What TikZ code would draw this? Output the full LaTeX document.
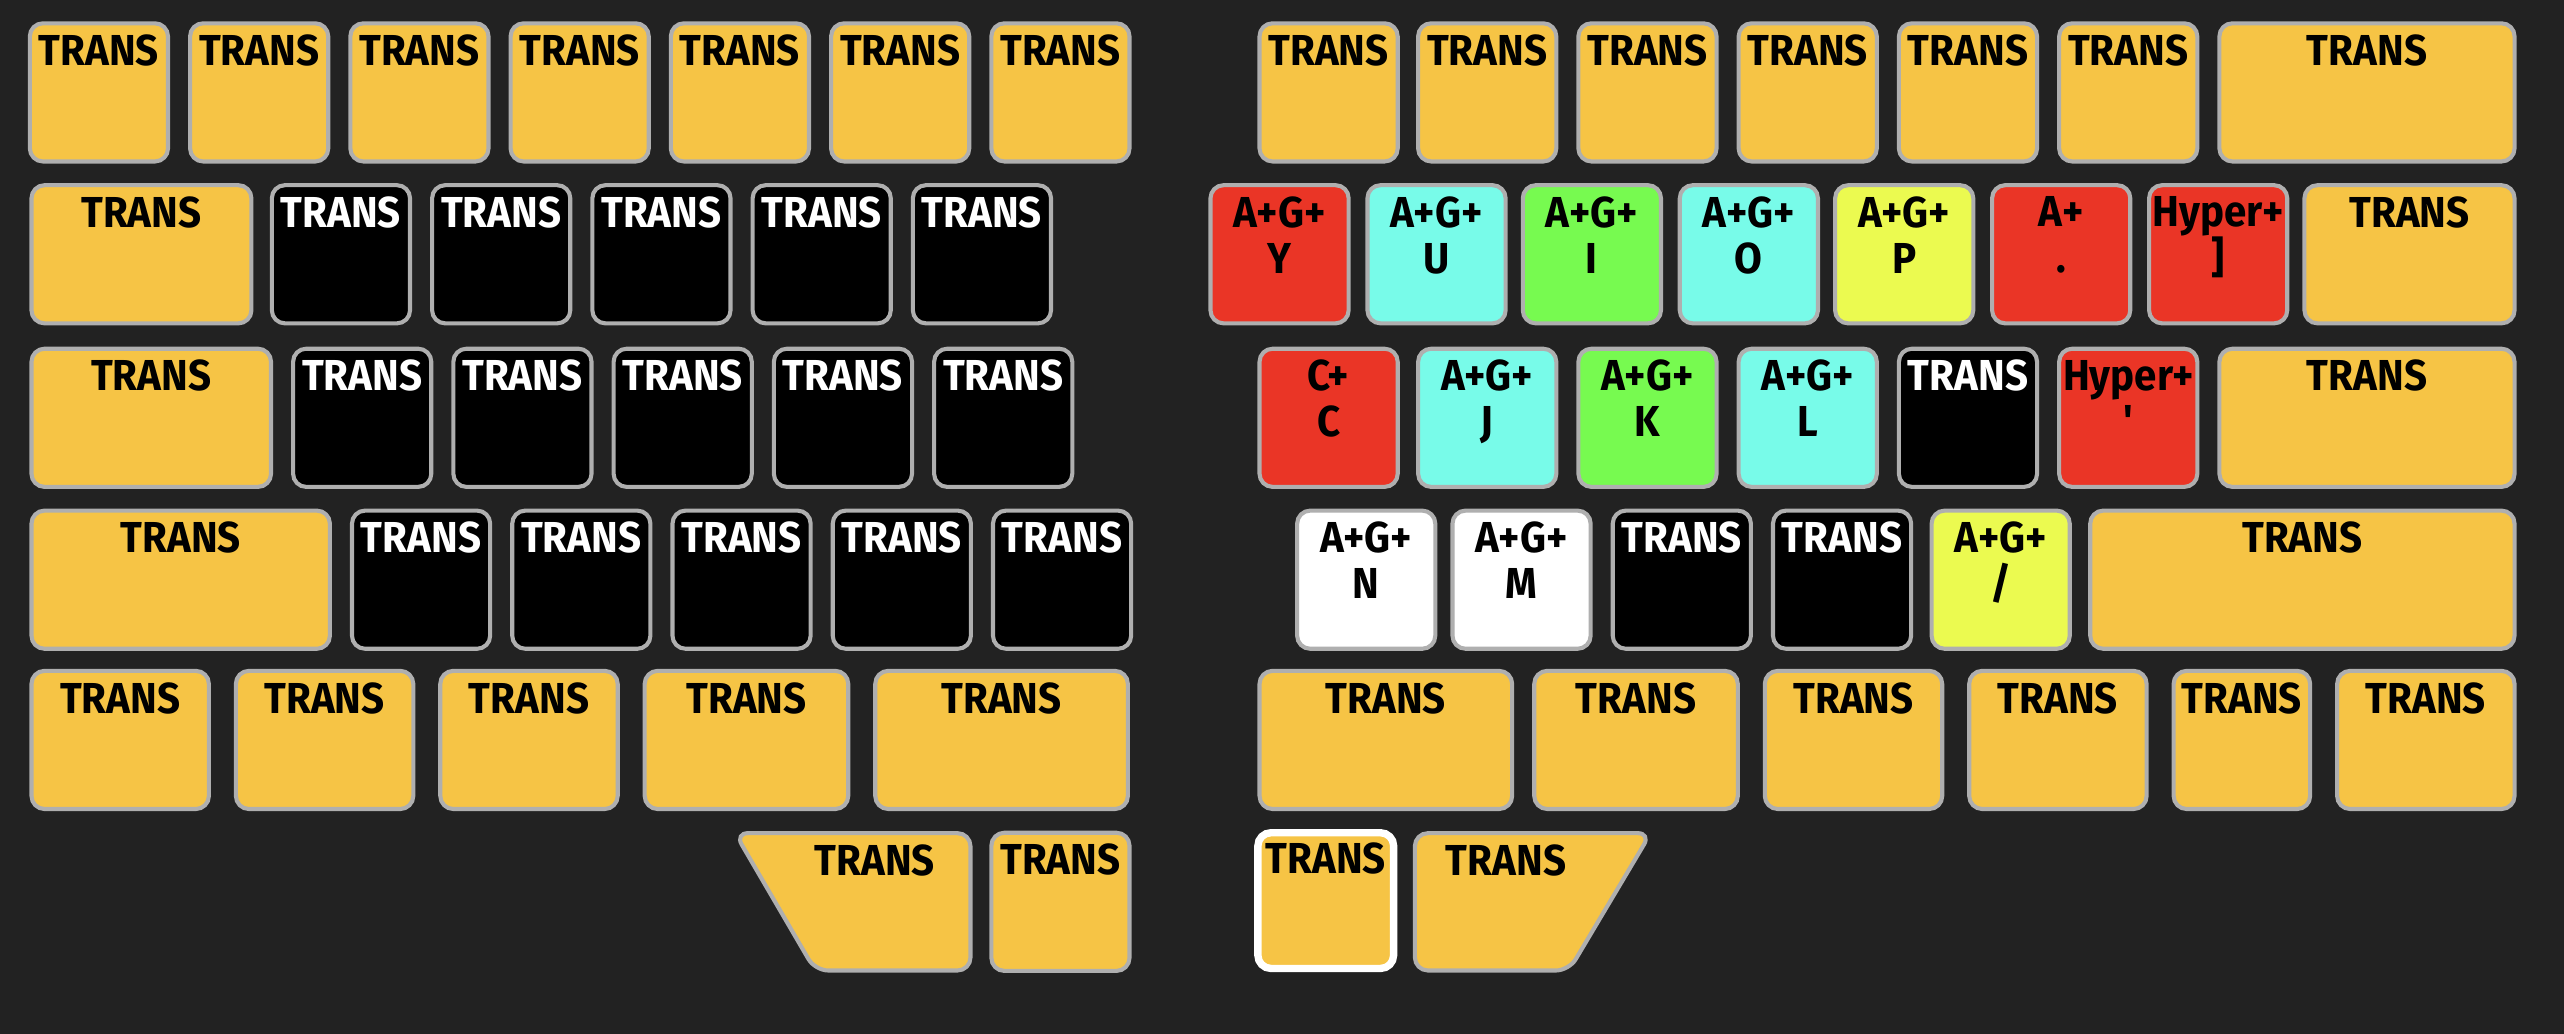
\documentclass[tikz,border=0pt]{standalone}
\usepackage{fontspec}
\usepackage{tikz}
\newfontfamily\legendfamily{Fira Sans}[FakeStretch=0.93]
\newcommand{\legendfont}{\legendfamily\bfseries\fontsize{26.5}{28}\selectfont}
\definecolor{board}{HTML}{222222}
\definecolor{keyedge}{HTML}{AFAFAF}
\definecolor{trans}{HTML}{F6C445}
\definecolor{keyred}{HTML}{EA3526}
\definecolor{keycyan}{HTML}{78FBE9}
\definecolor{keygreen}{HTML}{77FA50}
\definecolor{keylime}{HTML}{EBFA50}
\tikzset{key/.style={draw=keyedge,line width=2.5pt,rounded corners=8pt,anchor=north west,minimum height=84.5pt,inner sep=0pt,outer sep=0pt}}
\tikzset{keylabel/.style={anchor=north,inner sep=0pt,outer sep=0pt,align=center,font=\legendfont}}

\begin{document}
\begin{tikzpicture}[x=1pt,y=-1pt]
  \useasboundingbox (0,0) rectangle (1568,632);
  \fill[board] (-4,-4) rectangle (1572,636);
  % left half
  \foreach \x [count=\i] in {17,115,213,311,409,507,605} {
    \node[key,fill=trans,minimum width=84.5pt] (la\i) at (\x+1.25,14.25) {};
    \node[keylabel] (lal\i) at ([yshift=-7pt]la\i.north) {TRANS};
  }
  \foreach \x/\w/\c/\t [count=\i] in {18/137/trans/black,165/87/black/white,263/87/black/white,361/87/black/white,459/87/black/white,557/87/black/white} {
    \node[key,fill=\c,minimum width=\w-2.5] (lb\i) at (\x+1.25,113.25) {};
    \node[keylabel,text=\t] (lbl\i) at ([yshift=-7pt]lb\i.north) {TRANS};
  }
  \foreach \x/\w/\c/\t [count=\i] in {18/149/trans/black,178/87/black/white,276/87/black/white,374/87/black/white,472/87/black/white,570/87/black/white} {
    \node[key,fill=\c,minimum width=\w-2.5] (lc\i) at (\x+1.25,213.25) {};
    \node[keylabel,text=\t] (lcl\i) at ([yshift=-7pt]lc\i.north) {TRANS};
  }
  \foreach \x/\w/\c/\t [count=\i] in {18/185/trans/black,214/87/black/white,312/87/black/white,410/87/black/white,508/87/black/white,606/87/black/white} {
    \node[key,fill=\c,minimum width=\w-2.5] (ld\i) at (\x+1.25,312.25) {};
    \node[keylabel,text=\t] (ldl\i) at ([yshift=-7pt]ld\i.north) {TRANS};
  }
  \foreach \x/\w [count=\i] in {18/111,143/111,268/111,393/127,534/157} {
    \node[key,fill=trans,minimum width=\w-2.5] (le\i) at (\x+1.25,410.25) {};
    \node[keylabel] (lel\i) at ([yshift=-7pt]le\i.north) {TRANS};
  }
  \draw[draw=keyedge,line width=2.5pt,rounded corners=8pt,fill=trans]
    (449.5,509.5) -- (593.5,509.5) -- (593.5,593.5) -- (498.5,593.5) -- cycle;
  \coordinate (lf1) at (535,509.5);
  \node[keylabel] (lfl1) at ([yshift=-7pt]lf1) {TRANS};
  \node[key,fill=trans,minimum width=84.5pt] (lf2) at (606.25,509.25) {};
  \node[keylabel] (lfl2) at ([yshift=-7pt]lf2.north) {TRANS};
  % right half
  \foreach \x/\w [count=\i] in {769/87,866/87,964/87,1062/87,1160/87,1258/87,1356/183} {
    \node[key,fill=trans,minimum width=\w-2.5] (ra\i) at (\x+1.25,14.25) {};
    \node[keylabel] (ral\i) at ([yshift=-7pt]ra\i.north) {TRANS};
  }
  \foreach \x/\w/\c/\l [count=\i] in {739/87/keyred/{A+G+\\Y},835/87/keycyan/{A+G+\\U},930/87/keygreen/{A+G+\\I},1026/87/keycyan/{A+G+\\O},1121/87/keylime/{A+G+\\P},1217/87/keyred/{A+\\.},1313/87/keyred/{Hyper+\\]},1408/131/trans/TRANS} {
    \node[key,fill=\c,minimum width=\w-2.5] (rb\i) at (\x+1.25,113.25) {};
    \node[keylabel] (rbl\i) at ([yshift=-7pt]rb\i.north) {\l};
  }
  \foreach \x/\w/\c/\t/\l [count=\i] in {769/87/keyred/black/{C+\\C},866/87/keycyan/black/{A+G+\\J},964/87/keygreen/black/{A+G+\\K},1062/87/keycyan/black/{A+G+\\L},1160/87/black/white/TRANS,1258/87/keyred/black/{Hyper+\\'},1356/183/trans/black/TRANS} {
    \node[key,fill=\c,minimum width=\w-2.5] (rc\i) at (\x+1.25,213.25) {};
    \node[keylabel,text=\t] (rcl\i) at ([yshift=-7pt]rc\i.north) {\l};
  }
  \foreach \x/\w/\c/\t/\l [count=\i] in {792/87/white/black/{A+G+\\N},887/87/white/black/{A+G+\\M},985/87/black/white/TRANS,1083/87/black/white/TRANS,1180/87/keylime/black/{A+G+\\/},1277/262/trans/black/TRANS} {
    \node[key,fill=\c,minimum width=\w-2.5] (rd\i) at (\x+1.25,312.25) {};
    \node[keylabel,text=\t] (rdl\i) at ([yshift=-7pt]rd\i.north) {\l};
  }
  \foreach \x/\w [count=\i] in {769/157,937/127,1078/111,1203/111,1328/86,1428/111} {
    \node[key,fill=trans,minimum width=\w-2.5] (re\i) at (\x+1.25,410.25) {};
    \node[keylabel] (rel\i) at ([yshift=-7pt]re\i.north) {TRANS};
  }
  \node[key,fill=trans,draw=white,line width=4.5pt,minimum width=83pt,minimum height=83pt] (rf1) at (769.25,509.25) {};
  \node[keylabel] (rfl1) at ([yshift=-6pt]rf1.north) {TRANS};
  \draw[draw=keyedge,line width=2.5pt,rounded corners=8pt,fill=trans]
    (865.25,509.5) -- (1009.5,509.5) -- (959.5,593.5) -- (865.25,593.5) -- cycle;
  \coordinate (rf2) at (921,509.5);
  \node[keylabel] (rfl2) at ([yshift=-7pt]rf2) {TRANS};
\end{tikzpicture}
\end{document}
